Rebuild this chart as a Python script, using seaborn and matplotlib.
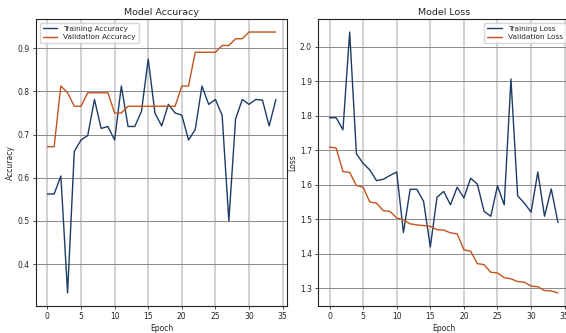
import numpy as np
import pandas as pd
import matplotlib
matplotlib.use("Agg")
import matplotlib.pyplot as plt
import seaborn as sns

epochs = list(range(35))
train_acc = [0.5625, 0.5625, 0.6042, 0.3333, 0.6611, 0.6875, 0.6979, 0.7813, 0.7143, 0.7188,
             0.6875, 0.8125, 0.7188, 0.7188, 0.7540, 0.8750, 0.7500, 0.7200, 0.7700, 0.7500,
             0.7450, 0.6875, 0.7120, 0.8125, 0.7700, 0.7813, 0.7450, 0.5000, 0.7360, 0.7813,
             0.7700, 0.7813, 0.7800, 0.7200, 0.7813]
val_acc = [0.6719, 0.6719, 0.8125, 0.7969, 0.7656, 0.7656, 0.7969, 0.7969, 0.7969, 0.7969,
           0.7500, 0.7500, 0.7656, 0.7656, 0.7656, 0.7656, 0.7656, 0.7656, 0.7656, 0.7656,
           0.8125, 0.8125, 0.8906, 0.8906, 0.8906, 0.8906, 0.9063, 0.9063, 0.9219, 0.9219,
           0.9375, 0.9375, 0.9375, 0.9375, 0.9375]
train_loss = [1.794, 1.794, 1.759, 2.042, 1.690, 1.662, 1.643, 1.612, 1.616, 1.627,
              1.637, 1.462, 1.587, 1.587, 1.552, 1.420, 1.564, 1.581, 1.542, 1.593,
              1.562, 1.619, 1.602, 1.523, 1.509, 1.597, 1.542, 1.906, 1.568, 1.547,
              1.521, 1.637, 1.509, 1.588, 1.491]
val_loss = [1.709, 1.706, 1.638, 1.636, 1.598, 1.593, 1.550, 1.547, 1.525, 1.523,
            1.504, 1.499, 1.487, 1.484, 1.482, 1.480, 1.470, 1.469, 1.461, 1.458,
            1.412, 1.408, 1.372, 1.369, 1.347, 1.345, 1.331, 1.328, 1.320, 1.318,
            1.307, 1.305, 1.294, 1.293, 1.287]

TRAIN_C = "#1d3c66"
VAL_C = "#c4531c"

sns.set_style("white")
plt.rcParams['font.family'] = ['DejaVu Sans']

fig = plt.figure(figsize=(5.66, 3.33), dpi=100)
ax1 = fig.add_axes([0.0636, 0.081, 0.444, 0.862])
ax2 = fig.add_axes([0.562, 0.081, 0.444, 0.862])

def style(ax, title, ylabel):
    ax.grid(True, axis="x", color="#cfcfcf", lw=1.3)
    ax.grid(True, axis="y", color="#8a8a8a", lw=0.7)
    ax.set_axisbelow(True)
    ax.set_title(title, fontsize=6.8, pad=3)
    ax.set_xlabel("Epoch", fontsize=5.5, labelpad=2)
    ax.set_ylabel(ylabel, fontsize=5.5, labelpad=2)
    ax.tick_params(labelsize=5.5, length=2.5, width=0.6, pad=2, left=True, bottom=True)
    for s in ax.spines.values():
        s.set_linewidth(0.8)
        s.set_color("#222222")
    ax.set_xticks([0, 5, 10, 15, 20, 25, 30, 35])
    ax.margins(x=0.05, y=0.05)

sns.lineplot(x=epochs, y=train_acc, ax=ax1, color=TRAIN_C, lw=1.0, label="Training Accuracy")
sns.lineplot(x=epochs, y=val_acc, ax=ax1, color=VAL_C, lw=1.0, label="Validation Accuracy")
style(ax1, "Model Accuracy", "Accuracy")
ax1.set_yticks([0.4, 0.5, 0.6, 0.7, 0.8, 0.9])
ax1.legend(loc="upper left", fontsize=5.3, frameon=True, handlelength=2.0,
           borderpad=0.4, labelspacing=0.3, fancybox=True)

sns.lineplot(x=epochs, y=train_loss, ax=ax2, color=TRAIN_C, lw=1.0, label="Training Loss")
sns.lineplot(x=epochs, y=val_loss, ax=ax2, color=VAL_C, lw=1.0, label="Validation Loss")
style(ax2, "Model Loss", "Loss")
ax2.set_yticks([1.3, 1.4, 1.5, 1.6, 1.7, 1.8, 1.9, 2.0])
ax2.legend(loc="upper right", fontsize=5.3, frameon=True, handlelength=2.0,
           borderpad=0.4, labelspacing=0.3, fancybox=True)

fig.savefig("out.png", dpi=100)
